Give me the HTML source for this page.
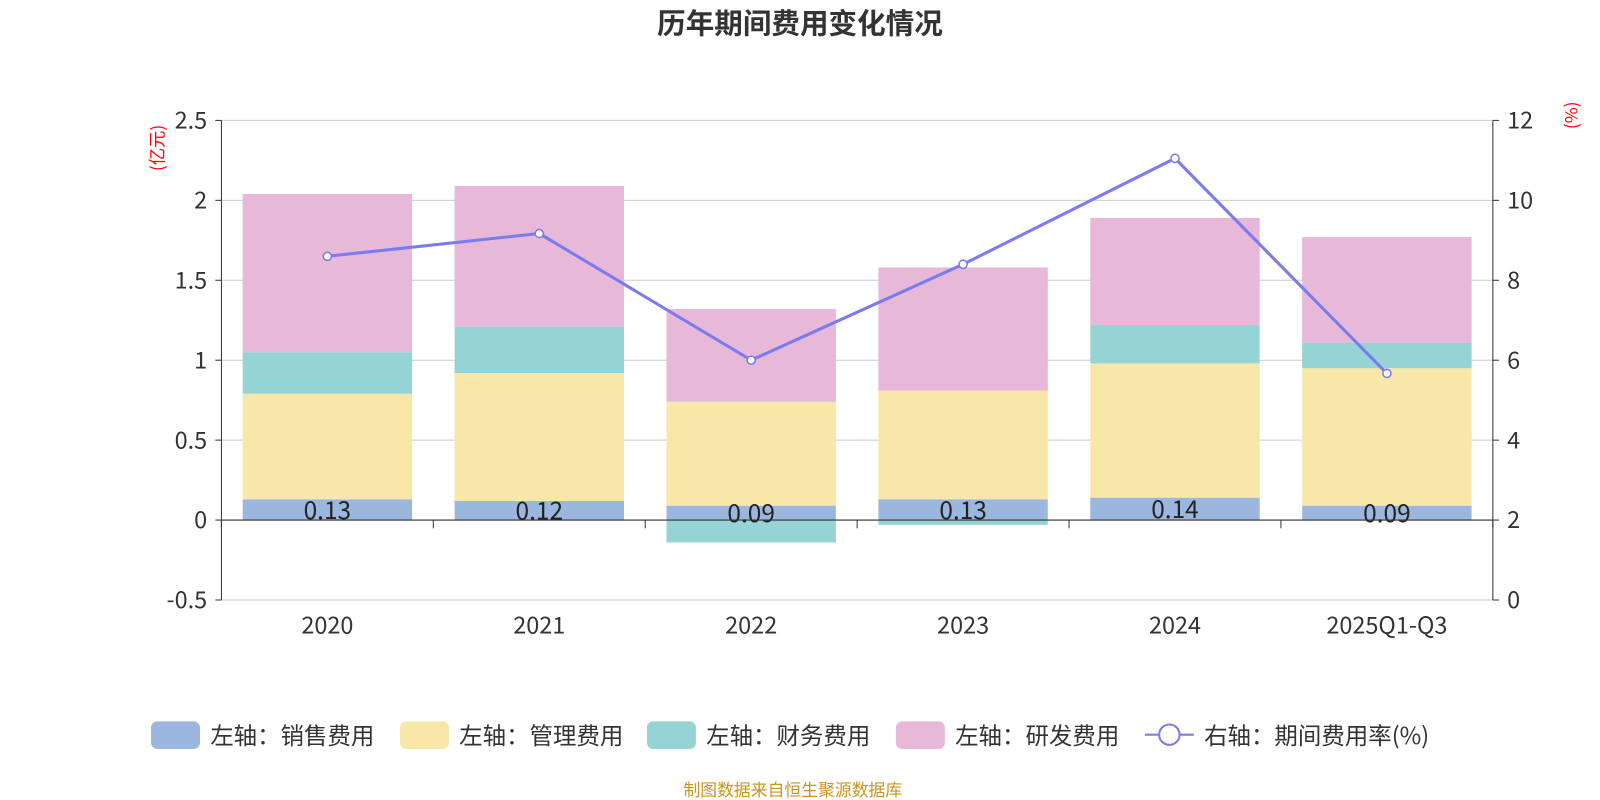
<!DOCTYPE html>
<html><head><meta charset="utf-8"><style>
body{margin:0;background:#fff;}
svg{display:block;font-family:"Noto Sans CJK SC","Liberation Sans",sans-serif;}
</style></head><body>
<svg width="1600" height="800"><g id="c" transform="scale(1.0204)"></g></svg>
<script>
const categories=["2020","2021","2022","2023","2024","2025Q1-Q3"];
const sales=[0.13,0.12,0.09,0.13,0.14,0.09];
const mgmt=[0.66,0.80,0.65,0.68,0.84,0.86];
const fin=[0.26,0.29,-0.14,-0.03,0.24,0.16];
const rd=[0.99,0.88,0.58,0.77,0.67,0.66];
const rate=[8.6,9.17,6.0,8.4,11.05,5.67];
const leftTicks=[-0.5,0,0.5,1,1.5,2,2.5];
const rightTicks=[0,2,4,6,8,10,12];
const NS="http://www.w3.org/2000/svg";
const svg=document.getElementById('c');
function mk(t,a,p){const e=document.createElementNS(NS,t);for(const k in a)e.setAttribute(k,a[k]);(p||svg).appendChild(e);return e;}
const X0=217,X1=1463,T=118,B=588;
const yL=v=>B-(v+0.5)/3*(B-T);
const yR=v=>B-v/12*(B-T);
const bw=(X1-X0)/categories.length;
const xc=i=>X0+bw*(i+0.5);
let t=mk('text',{x:784,y:33,'text-anchor':'middle','font-size':28,'font-weight':'bold',fill:'#333'});t.textContent='历年期间费用变化情况';

leftTicks.forEach(v=>{const g=mk('line',{x1:X0,x2:X1,y1:yL(v),y2:yL(v),stroke:'#ccc','stroke-width':1});

const l=mk('text',{x:X0-14,y:yL(v)+8,'text-anchor':'end','font-size':23,fill:'#333'});l.textContent=v;

mk('line',{x1:X0-6,x2:X0,y1:yL(v),y2:yL(v),stroke:'#333'});});
rightTicks.forEach(v=>{const l=mk('text',{x:X1+14,y:yR(v)+8,'font-size':23,fill:'#333'});l.textContent=v;

mk('line',{x1:X1,x2:X1+6,y1:yR(v),y2:yR(v),stroke:'#333'});});
mk('line',{x1:X0,x2:X0,y1:T,y2:B,stroke:'#333'});
mk('line',{x1:X1,x2:X1,y1:T,y2:B,stroke:'#333'});
let u=mk('text',{x:160,y:145,'font-size':17,fill:'red','text-anchor':'middle',transform:'rotate(-90 160 145)'});u.textContent='(亿元)';

u=mk('text',{x:1546,y:113,'font-size':17,fill:'red','text-anchor':'middle',transform:'rotate(-90 1546 113)'});u.textContent='(%)';

const series=[[sales,'#9BB7E0','sales'],[mgmt,'#F9E7A9','mgmt'],[fin,'#96D3D4','finance'],[rd,'#E7B8D8','rd']];
const bwid=166;
categories.forEach((c,i)=>{let pos=0,neg=0;
series.forEach(([arr,col,nm])=>{const v=arr[i];let y0,y1;
if(v>=0){y0=pos;y1=pos+v;pos=y1;}else{y0=neg;y1=neg+v;neg=y1;}
const r=mk('rect',{x:xc(i)-bwid/2,y:Math.min(yL(y0),yL(y1)),width:bwid,height:Math.abs(yL(y1)-yL(y0)),fill:col});
});
const lb=mk('text',{x:xc(i),y:yL(sales[i]/2)+9,'text-anchor':'middle','font-size':24,fill:'#222'});lb.textContent=sales[i].toFixed(2);

const xl=mk('text',{x:xc(i),y:621,'text-anchor':'middle','font-size':23,fill:'#333'});xl.textContent=c;
});
mk('line',{x1:X0,x2:X1,y1:yL(0),y2:yL(0),stroke:'#333'});
for(let i=0;i<=categories.length;i++)mk('line',{x1:X0+bw*i,x2:X0+bw*i,y1:yL(0),y2:yL(0)+8,stroke:'#333'});
const pts=rate.map((v,i)=>xc(i)+','+yR(v)).join(' ');
const pl=mk('polyline',{points:pts,fill:'none',stroke:'#7B7BF0','stroke-width':3});

rate.forEach((v,i)=>{const p=mk('circle',{cx:xc(i),cy:yR(v),r:4,fill:'#fff',stroke:'#7B7BF0','stroke-width':1.5});
});
const leg=[['左轴：销售费用','#9BB7E0',148],['左轴：管理费用','#F9E7A9',392],['左轴：财务费用','#96D3D4',634],['左轴：研发费用','#E7B8D8',878]];
leg.forEach(([s,c,x])=>{const g=mk('g',{});
mk('rect',{x:x,y:707,width:48,height:27,rx:6,fill:c},g);
const tx=mk('text',{x:x+58,y:729,'font-size':23,fill:'#333'},g);tx.textContent=s;});
const g=mk('g',{});
mk('line',{x1:1122,x2:1170,y1:720,y2:720,stroke:'#7B7BF0','stroke-width':2},g);
mk('circle',{cx:1146,cy:720,r:10,fill:'#fff',stroke:'#7B7BF0','stroke-width':2},g);
const tx=mk('text',{x:1180,y:729,'font-size':23,fill:'#333'},g);tx.textContent='右轴：期间费用率(%)';
const src=mk('text',{x:777,y:780,'text-anchor':'middle','font-size':16.5,fill:'#C8961E'});src.textContent='制图数据来自恒生聚源数据库';

</script>
</body></html>
